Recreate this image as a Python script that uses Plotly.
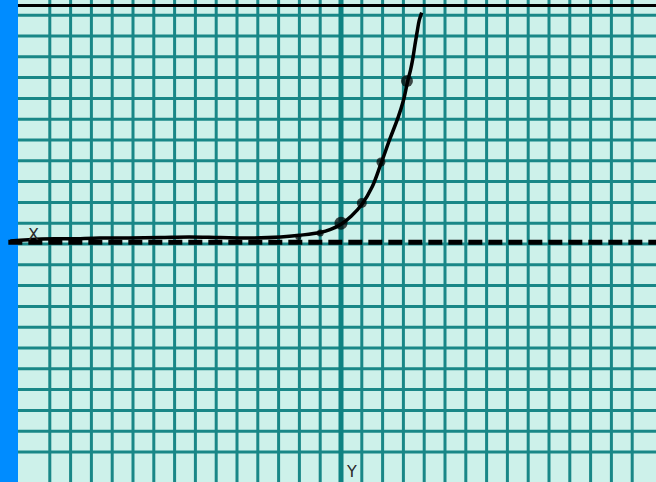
import plotly.graph_objects as go

# Hand-drawn exponential curve (grid units; one square = 1 unit)
curve_x = [-15.9, -14.4, -13.0, -11.6, -10.2, -8.7, -7.3, -5.8, -4.4, -2.9, -2.0, -1.0, -0.5,
           0.0, 0.5, 1.0, 1.5, 1.9, 2.35, 2.75, 3.0, 3.2, 3.35, 3.45, 3.56, 3.66, 3.76, 3.88]
curve_y = [0.14, 0.24, 0.25, 0.29, 0.29, 0.31, 0.34, 0.31, 0.29, 0.34, 0.42, 0.55, 0.70,
           0.95, 1.35, 1.9, 2.75, 3.8, 5.05, 6.1, 6.9, 7.8, 8.4, 8.9, 9.6, 10.2, 10.75, 11.12]

# Plotted dots on the curve
dot_x = [-2.05, -1.0, 0.0, 1.0, 1.92, 3.17]
dot_y = [0.34, 0.53, 1.0, 1.97, 3.94, 7.84]
dot_size = [6, 7, 13, 10, 9, 12]

# Grid lines (integer squares)
grid_x = list(range(-14, 15))
grid_y = list(range(-10, 12))

axis_labels = ["X", "Y"]
label_x = [-14.8, 0.5]
label_y = [0.45, -10.95]

XR = [-16.394, 15.144]
YR = [-11.442, 11.731]

BG = "#cdf1ea"
GRID = "#198787"

fig = go.Figure()

# dashed x axis
fig.add_trace(go.Scatter(x=[XR[0] + 0.4, XR[1]], y=[0.08, 0.08], mode="lines",
                         line=dict(color="black", width=5, dash="14px,6px"),
                         hoverinfo="skip", showlegend=False))
# curve
fig.add_trace(go.Scatter(x=curve_x, y=curve_y, mode="lines",
                         line=dict(color="black", width=3.5, shape="spline"),
                         hoverinfo="skip", showlegend=False))
# dots
fig.add_trace(go.Scatter(x=dot_x, y=dot_y, mode="markers",
                         marker=dict(color="black", size=dot_size, line=dict(width=0)),
                         hoverinfo="skip", showlegend=False))

shapes = []
for gx in grid_x:
    shapes.append(dict(type="line", xref="x", yref="paper", x0=gx, x1=gx, y0=0, y1=1,
                       line=dict(color=GRID, width=3), layer="below"))
for gy in grid_y:
    shapes.append(dict(type="line", xref="paper", yref="y", x0=0, x1=1, y0=gy, y1=gy,
                       line=dict(color=GRID, width=3), layer="below"))
shapes += [
    # thick y axis
    dict(type="line", xref="x", yref="paper", x0=0, x1=0, y0=0, y1=1,
         line=dict(color="#0e8282", width=5), layer="below"),
    # blue margin strip
    dict(type="rect", xref="paper", yref="paper", x0=0, x1=18/656, y0=0, y1=1,
         fillcolor="#008cff", line=dict(width=0), layer="below"),
    # top black line
    dict(type="line", xref="paper", yref="paper", x0=18/656, x1=1, y0=1-5.5/482, y1=1-5.5/482,
         line=dict(color="black", width=3), layer="below"),
]

annotations = [
    dict(x=lx, y=ly, xref="x", yref="y", text=t, showarrow=False,
         font=dict(family="DejaVu Sans", size=16, color="#2a2a2a"))
    for t, lx, ly in zip(axis_labels, label_x, label_y)
]

fig.update_layout(
    width=656, height=482,
    margin=dict(l=0, r=0, t=0, b=0),
    paper_bgcolor=BG, plot_bgcolor=BG,
    shapes=shapes, annotations=annotations,
    xaxis=dict(range=XR, showticklabels=False, ticks="", showgrid=False, zeroline=False,
               showline=False, fixedrange=True),
    yaxis=dict(range=YR, showticklabels=False, ticks="", showgrid=False, zeroline=False,
               showline=False, fixedrange=True),
)

fig.write_html("out.html", config={"displayModeBar": False},
               post_script="document.body.style.margin='0px';document.body.style.overflow='hidden';")
